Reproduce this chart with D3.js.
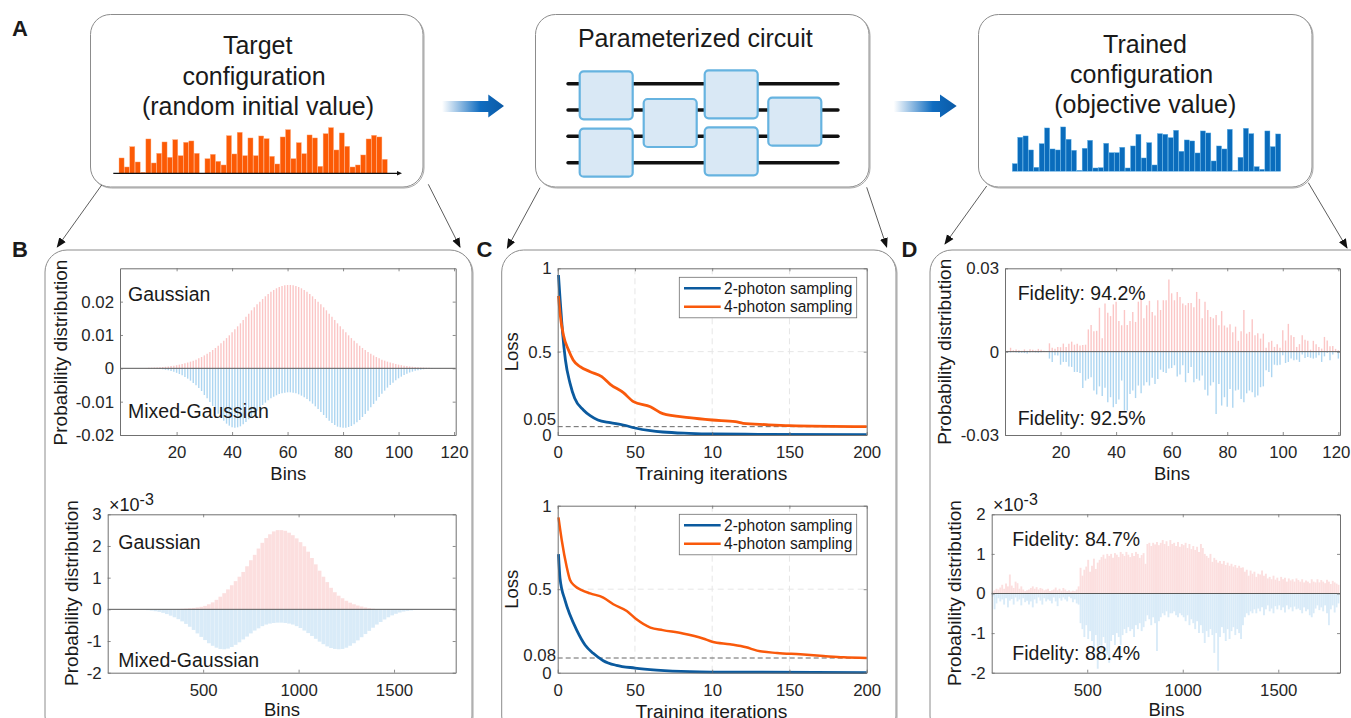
<!DOCTYPE html>
<html>
<head>
<meta charset="utf-8">
<script src="https://cdn.jsdelivr.net/npm/d3@7/dist/d3.min.js"></script>
<style>
	body { margin: 0; background: #fff; overflow: hidden; }
	text { font-family: "Liberation Sans", Arial, sans-serif; fill: #1a1a1a; }
</style>
</head>
<body>
<div id="chart"></div>
<script>
// top row sketches, heights in arbitrary units
var targetBars = [46,19,80,34,3,103,31,60,94,48,101,53,93,97,60,0,44,57,36,25,113,58,123,53,106,53,112,104,51,28,109,131,44,92,59,115,106,21,119,137,70,121,81,19,25,55,103,114,109,42];
var trainedBars = [23,102,106,64,12,83,130,67,64,133,96,63,3,69,93,10,11,84,56,56,72,10,76,111,40,86,19,113,111,101,123,60,94,91,55,121,115,31,76,67,126,3,42,129,113,14,6,121,74,112];

// panel B top, bins 1..120, units of 1e-4
var gaussian120 = [0,0,0,0,0,0,0,0,.8,1.5,1.8,2.2,2.8,3.3,4,4.7,5.6,6.7,8,9.3,11,12.8,15,17.3,20,23,26,30,34,38.8,44,49,55,61,68,75,83,90.6,99,108,117,126,135,145,155,164,174,183,192,200,208,216,223,230,235,240,244,247,249,250,250,249,247,244,240,235,230,223,216,208,200,192,183,174,164,155,145,135,126,117,108,99,90.6,83,75,68,61,55,49,44,38.8,34,30,26,23,20,17.3,15,12.8,11,9.3,8,6.7,5.6,4.7,4,3.3,2.8,2.2,1.8,1.5,.8,0,0,0,0,0,0,0,0];
var mixed120 = [0,0,0,0,0,0,0,0,0,.3,.5,.8,1.3,2,3,4.5,6,8,10.5,13.5,17,21,26,31,37,44,51,59,68,80,90,101,113,125,136,147,157,166,172,177,178,177,174,168,161,153,145,136,127,119,110,103,96,90,85,81,77,75,73,72,72,73,75,78,82,87,92,99,106,114,122,131,140,149,157,164,170,175,177,178,178,176,173,168,162,155,146,137,127,117,107,97,86,76,67,58,50,43,36,30,25,20,16,12.5,10,7.5,5.5,4,3,2,1.5,1,.7,.4,.2,0,0,0,0,0];

// panel B bottom, every 20 bins from 10 to 1810, units of 1e-3
var gaussian1820 = [0,0,0,0,0,0,0,0,0,0,0,0,0,0,0,.004,.005,.008,.012,.018,.025,.035,.045,.06,.08,.11,.16,.22,.30,.40,.51,.63,.76,.89,1.03,1.18,1.36,1.55,1.72,1.92,2.10,2.25,2.37,2.46,2.5,2.5,2.48,2.42,2.34,2.24,2.12,1.99,1.82,1.62,1.42,1.22,1.03,.86,.68,.54,.43,.35,.27,.21,.16,.12,.09,.06,.035,.02,.01,.005,.002,0,0,0,0,0,0,0,0,0,0,0,0,0,0,0,0,0,0];
var mixed1820 = [0,0,0,0,0,0,0,.005,.01,.015,.025,.04,.06,.08,.11,.15,.20,.25,.31,.38,.46,.55,.65,.76,.87,.97,1.07,1.15,1.21,1.25,1.26,1.24,1.19,1.12,1.04,.95,.86,.76,.67,.6,.53,.48,.45,.43,.42,.42,.43,.45,.48,.53,.59,.67,.75,.84,.93,1.02,1.10,1.17,1.22,1.25,1.26,1.25,1.21,1.15,1.07,.98,.88,.78,.68,.58,.48,.40,.32,.25,.19,.14,.10,.07,.05,.035,.022,.013,.008,.004,.002,0,0,0,0,0,0];

// panel C, iteration and loss pairs
var iterTop2 = [0.5,1.5,2.6,3.2,5,8,11,16.6,21,26,34,42.5,50,60,68,85,100,130,200];
var lossTop2 = [.96,.82,.68,.61,.45,.31,.22,.15,.116,.09,.074,.06,.042,.026,.018,.01,.006,.004,.002];
var iterTop4 = [0.5,1.5,3.7,7,10,14.5,21,28.5,34,42.5,49,60,68,85,100,115,120,135,150,200];
var lossTop4 = [.834,.73,.6,.51,.45,.41,.38,.35,.304,.254,.20,.17,.128,.104,.09,.08,.07,.062,.056,.05];
var iterBot2 = [0.5,1.5,4.7,8,12.3,17.7,23,29.5,38,50,64,85.6,100,200];
var lossBot2 = [.71,.565,.435,.345,.255,.166,.116,.072,.044,.028,.016,.006,.004,.001];
var iterBot4 = [0.5,2.6,5.8,8,11,15.5,21,29.5,36,44.7,51,60,68,81,94,100,111.5,122,129,142,157,172,185,200];
var lossBot4 = [.93,.795,.635,.555,.52,.495,.475,.45,.41,.37,.32,.27,.255,.235,.205,.185,.17,.152,.132,.118,.11,.10,.092,.088];

// panel D top, bins 1..120, units of 1e-3
var trained120Pos = [.3,1.4,.5,.8,.5,.3,.8,.3,.9,.7,.4,1,.7,.3,.2,3,1.4,1,1.7,1.6,2.9,1.7,2.8,3.6,2.5,2.8,2.2,2.4,2.5,8,9.6,7.3,7.5,15.8,4.8,17.3,14,12.8,17,18,11,9.5,15,9.6,11,14.3,10.7,18,19,12,16.7,18.3,14.3,13,18.5,15,18.5,18.5,26,21,18.5,21.5,19.7,17.3,16.7,17.5,17.5,16,21.5,19,12,18,15,12.5,12,13.2,9.5,14.6,9.4,8.7,9.9,7,9,3.9,7.3,15,6.5,7.1,11.7,5.9,6.6,4.7,6.5,1.4,3.4,3.9,1.7,2.7,1.4,7.7,4,10,5.9,5.3,1.7,2.7,5.9,4.3,3.9,.7,3.9,2.7,1.7,1.1,5.3,4,1.9,2,1,.5];
var trained120Neg = [.3,.3,.2,.3,.5,.4,.5,.7,.3,.2,.3,.4,.2,.1,.1,2.5,3.7,1.3,1.4,4.7,3.7,3.7,5.3,5.5,7.3,7.3,7.7,13.1,10.4,9.8,9.2,14,15.4,12.5,16,13,18.2,16.4,20,18.8,17.2,10.4,21.2,21.2,15.2,14,16.7,12.2,15,12.2,11,12.2,9.4,11.6,9.8,6.5,7.3,7.7,6.1,5.9,4.9,8.9,8.2,4.9,11,7.7,5.5,11,9.8,10.4,8.6,13.7,15.8,12.2,11,22.4,11.6,19.4,16.4,19.8,13.4,20.2,14,13.7,17,18.2,15,14,14.6,16.4,15.8,12.8,12.5,6.7,7.3,9.2,4.7,4.9,4.7,1.3,4.1,3.7,2.5,3.1,2.9,3.7,1,2.3,1.9,2.2,2.5,2.2,1.3,3.7,1.7,.5,3.1,1,.2,2.5];

// panel D bottom, every 10 bins from 5 to 1815, units of 1e-3
var trained1820Pos = [.05,.08,.12,.1,.15,.22,.12,.25,.18,.48,.2,.14,.3,.26,.12,.18,.1,.06,.08,.1,.14,.18,.12,.16,.1,.14,.12,.08,.1,.12,.06,.08,.1,.15,.08,.12,.07,.14,.1,.06,.08,.05,.07,.06,.1,.18,.65,.45,.6,.68,.85,.55,.7,.88,.62,.78,.85,.92,.98,.88,1,.95,1,.9,1.02,.98,.92,1.05,1,.95,1.05,.98,.92,1.02,.95,1.05,1,.9,.97,1.02,.75,1.25,1.28,1.2,1.28,1.24,1.3,1.22,1.28,1.35,1.25,1.32,1.2,1.35,1.25,1.28,1.2,1.3,1.18,1.25,1.22,1.28,1.15,1.25,1.12,1.2,1.1,1.18,1.05,1.25,1.15,1,.95,.9,1,.8,.9,.85,.78,.82,.75,.82,.72,.78,.7,.75,.68,.72,.65,.7,.65,.66,.55,.6,.45,.58,.5,.55,.42,.5,.48,.58,.45,.5,.38,.42,.36,.45,.35,.4,.32,.42,.36,.4,.3,.38,.33,.36,.3,.38,.34,.3,.36,.28,.33,.3,.26,.36,.3,.28,.36,.28,.34,.3,.26,.35,.3,.24,.32,.28,.25,.22];
var trained1820Neg = [.08,.4,.25,.12,.2,.15,.28,.12,.35,.18,.14,.28,.1,.2,.15,.3,.12,.22,.18,.28,.2,.35,.15,.25,.1,.18,.28,.12,.2,.15,.18,.25,.1,.2,.32,.12,.18,.1,.15,.2,.08,.12,.22,.15,.25,.28,.75,.9,1.1,.8,1.15,.95,1.2,1.35,1.05,1.9,1.3,1.45,1.1,1.25,1.55,1.75,1.2,1.05,1.3,1,1.1,1.3,1.05,.9,1,.85,.95,.9,1.1,.8,.9,.75,.95,.85,.7,.55,.65,.8,.6,.75,1.45,.7,.6,.5,.55,.45,.6,.5,.5,.45,.55,.6,.5,.55,.6,.7,.55,.8,.65,.75,.9,.7,1,.8,1,1.25,.95,1.1,.9,1.05,1.5,1,1.95,1.1,.85,1,1.2,.9,1.15,.95,.85,1.05,.9,1,1.15,.8,.6,.5,.55,.45,.5,.4,.5,.38,.45,.35,.55,.4,.3,.45,.38,.5,.32,.4,.3,.42,.35,.48,.3,.4,.35,.45,.33,.4,.38,.42,.5,.35,.45,.4,.55,.6,.5,.38,.3,.42,.35,.45,.3,.5,.8,.4,.3,.48,.35,.25];

var bins120 = d3.range(1, 121);
var bins20 = d3.range(10, 1820, 20);
var bins10 = d3.range(5, 1825, 10);

var binTicks = [20, 40, 60, 80, 100, 120];
var bigBinTicks = [500, 1000, 1500];
var iterTicks = [0, 50, 100, 150, 200];
var iterLabels = ["0", "50", "10", "150", "200"];
var lossTicks = [0, 0.5, 1];
var lossLabels = ["0", "0.5", "1"];

var PINK = "#fbc6c6", SKY = "#aed6f1";
var PALE_PINK = "#fcdfdf", PALE_SKY = "#d9ebf8";
var ORANGE = "#f9590b", NAVY = "#0b5a9e";

var svg = d3.select("#chart").append("svg")
	.attr("width", 1351)
	.attr("height", 718)
	.style("display", "block");

var defs = svg.append("defs");
var grad = defs.append("linearGradient").attr("id", "arrowFill");
grad.append("stop").attr("offset", "8%").attr("stop-color", "#fff");
grad.append("stop").attr("offset", "65%").attr("stop-color", "#0f6cc0");
grad.append("stop").attr("offset", "100%").attr("stop-color", "#0b5aa6");
var head = defs.append("marker")
	.attr("id", "tip")
	.attr("viewBox", "0 0 10 10")
	.attr("refX", 9).attr("refY", 5)
	.attr("markerUnits", "userSpaceOnUse")
	.attr("markerWidth", 10).attr("markerHeight", 10)
	.attr("orient", "auto");
head.append("path").attr("d", "M0,1L10,5L0,9Z").attr("fill", "#111");

function roundBox(x0, y0, x1, y1, r) {
	svg.append("rect")
		.attr("x", x0 + 1).attr("y", y0 + 1)
		.attr("width", x1 - x0).attr("height", y1 - y0)
		.attr("rx", r)
		.attr("fill", "#fff").attr("stroke", "#a8a8a8").attr("stroke-width", 1);
	svg.append("rect")
		.attr("x", x0).attr("y", y0)
		.attr("width", x1 - x0).attr("height", y1 - y0)
		.attr("rx", r)
		.attr("fill", "#fff").attr("stroke", "#8c8c8c").attr("stroke-width", 1);
}

function label(txt, x, y, size, anchor, weight) {
	return svg.append("text")
		.text(txt)
		.attr("x", x).attr("y", y)
		.attr("font-size", size)
		.attr("text-anchor", anchor || "start")
		.attr("font-weight", weight || "normal");
}

function vLabel(txt, x, y, size) {
	return svg.append("text")
		.text(txt)
		.attr("transform", "translate(" + x + "," + y + ") rotate(-90)")
		.attr("font-size", size)
		.attr("text-anchor", "middle");
}

function arrowLine(x0, y0, x1, y1) {
	svg.append("line")
		.attr("x1", x0).attr("y1", y0)
		.attr("x2", x1).attr("y2", y1)
		.attr("stroke", "#333").attr("stroke-width", 0.8)
		.attr("marker-end", "url(#tip)");
}

function blockArrow(x0, x1, xh) {
	svg.append("polygon")
		.attr("points", [[x0, 101], [xh, 101], [xh, 94.5], [x1, 106], [xh, 117.5], [xh, 112], [x0, 112]].join(" "))
		.attr("fill", "url(#arrowFill)");
}

/* small bar sketch on top of the first and the last box */
function sketchBars(values, x0, x1, base, color, edge) {
	var x = d3.scaleBand().domain(d3.range(values.length)).range([x0, x1]).paddingInner(0.05);
	var h = d3.scaleLinear().domain([0, 137]).range([0, 45.7]);
	svg.append("g").selectAll("rect")
		.data(values)
		.join("rect")
		.attr("x", function(d, i) { return x(i); })
		.attr("y", function(d) { return base - h(d); })
		.attr("width", x.bandwidth())
		.attr("height", function(d) { return h(d); })
		.attr("fill", color)
		.attr("stroke", edge)
		.attr("stroke-width", 0.4);
}

/* MATLAB style box: inward ticks on all four sides */
function frame(box, x, y, xTicks, xLabels, yTicks, yLabels) {
	var g = svg.append("g");
	var size = 16.8;

	var bottom = d3.axisBottom(x).tickValues(xTicks).tickSizeInner(-3).tickSizeOuter(0).tickPadding(11)
		.tickFormat(function(d, i) { return xLabels[i]; });
	var left = d3.axisLeft(y).tickValues(yTicks).tickSizeInner(-3).tickSizeOuter(0).tickPadding(6)
		.tickFormat(function(d, i) { return yLabels[i]; });
	var top = d3.axisTop(x).tickValues(xTicks).tickSizeInner(-3).tickSizeOuter(0).tickFormat("");
	var right = d3.axisRight(y).tickValues(yTicks).tickSizeInner(-3).tickSizeOuter(0).tickFormat("");

	g.append("g").attr("transform", "translate(0," + box.bottom + ")").call(bottom);
	g.append("g").attr("transform", "translate(" + box.left + ",0)").call(left);
	g.append("g").attr("transform", "translate(0," + box.top + ")").call(top);
	g.append("g").attr("transform", "translate(" + box.right + ",0)").call(right);

	g.selectAll(".domain").attr("stroke", "#707070").attr("stroke-width", 1);
	g.selectAll(".tick line").attr("stroke", "#707070").attr("stroke-width", 0.8);
	g.selectAll(".tick text")
		.attr("font-size", size)
		.attr("font-family", "'Liberation Sans', Arial, sans-serif")
		.style("fill", "#262626");
	return g;
}

function stems(bins, values, sign, x, y, color, width) {
	svg.append("g").selectAll("line")
		.data(values)
		.join("line")
		.attr("x1", function(d, i) { return x(bins[i]); })
		.attr("x2", function(d, i) { return x(bins[i]); })
		.attr("y1", y(0))
		.attr("y2", function(d) { return y(sign * d); })
		.attr("stroke", color)
		.attr("stroke-width", width);
}

function zeroLine(box, y) {
	svg.append("line")
		.attr("x1", box.left).attr("x2", box.right)
		.attr("y1", y(0)).attr("y2", y(0))
		.attr("stroke", "#5a5a5a").attr("stroke-width", 1);
}

function exponent(x, y) {
	var t = label("\u00d710", x, y, 18);
	t.append("tspan").text("-3").attr("dy", -6).attr("font-size", 16);
}

/* top row */
roundBox(90.5, 14.5, 423, 187, 20);
roundBox(535.5, 14.5, 869, 187, 20);
roundBox(978.5, 14.5, 1312, 187, 20);

label("Target", 257.7, 54.3, 25, "middle");
label("configuration", 254, 85, 25, "middle");
label("(random initial value)", 258, 115, 25, "middle");
label("Parameterized circuit", 695.3, 46.7, 25, "middle");
label("Trained", 1145, 52.7, 25, "middle");
label("configuration", 1141.7, 82.7, 25, "middle");
label("(objective value)", 1145.3, 112.7, 25, "middle");

sketchBars(targetBars, 119, 387.3, 173.3, "#fc5a05", "#ffb38a");
svg.append("line")
	.attr("x1", 113.3).attr("x2", 398).attr("y1", 173.3).attr("y2", 173.3)
	.attr("stroke", "#111").attr("stroke-width", 1.2);
svg.append("path").attr("d", "M397,171L402,173.3L397,175.6Z").attr("fill", "#111");
sketchBars(trainedBars, 1012.3, 1280.7, 171.3, "#0a6cbc", "#63b5e8");

// parameterized circuit
[83.7, 110, 136.3, 162.7].forEach(function(wy) {
	svg.append("line")
		.attr("x1", 568).attr("x2", 838)
		.attr("y1", wy).attr("y2", wy)
		.attr("stroke", "#111").attr("stroke-width", 3.4).attr("stroke-linecap", "round");
});
[[579.7, 71.3], [579.7, 128.7], [643.7, 99], [704.7, 70.3], [704.7, 127.3], [768.3, 97.7]].forEach(function(b) {
	svg.append("rect")
		.attr("x", b[0]).attr("y", b[1])
		.attr("width", 53).attr("height", 48)
		.attr("rx", 4)
		.attr("fill", "#d9e8f5").attr("stroke", "#66b3e0").attr("stroke-width", 2.2);
});

blockArrow(436.7, 504, 488.3);
blockArrow(888.3, 956.7, 940);

// lower panels
roundBox(45, 250, 472, 738, 22);
roundBox(501.7, 250, 896, 738, 22);
roundBox(930, 250, 1372, 738, 22);

arrowLine(101.7, 185, 57.3, 247);
arrowLine(428.3, 184.3, 460, 247);
arrowLine(540, 187.7, 507.3, 248);
arrowLine(866.7, 187.3, 886.7, 247);
arrowLine(986.7, 186, 945, 244);
arrowLine(1308.3, 182.7, 1347, 248);

label("A", 12, 36, 22, "start", "bold");
label("B", 12, 257, 22, "start", "bold");
label("C", 476.5, 257, 22, "start", "bold");
label("D", 901.5, 257, 22, "start", "bold");

/* panel B top */
var boxB1 = { left: 120, right: 455.7, top: 268.3, bottom: 435 };
var xB1 = d3.scaleLinear().domain([-0.4, 120.6]).range([boxB1.left, boxB1.right]);
var yB1 = d3.scaleLinear().domain([-200, 300]).range([boxB1.bottom, boxB1.top]);
stems(bins120, gaussian120, 1, xB1, yB1, PINK, 1.4);
stems(bins120, mixed120, -1, xB1, yB1, SKY, 1.4);
zeroLine(boxB1, yB1);
frame(boxB1, xB1, yB1, binTicks, binTicks, [-200, -100, 0, 100, 200], ["-0.02", "-0.01", "0", "0.01", "0.02"]);
vLabel("Probability distribution", 67, 352.5, 19);
label("Bins", 288.3, 479.5, 18.5, "middle");
label("Gaussian", 128, 300.7, 19.5);
label("Mixed-Gaussian", 128, 418.3, 19.5);

/* panel B bottom */
var boxB2 = { left: 107.7, right: 455.7, top: 514.3, bottom: 672.7 };
var xB2 = d3.scaleLinear().domain([0, 1823]).range([boxB2.left, boxB2.right]);
var yB2 = d3.scaleLinear().domain([-2, 3]).range([boxB2.bottom, boxB2.top]);
stems(bins20, gaussian1820, 1, xB2, yB2, PALE_PINK, 3.7);
stems(bins20, mixed1820, -1, xB2, yB2, PALE_SKY, 3.7);
zeroLine(boxB2, yB2);
frame(boxB2, xB2, yB2, bigBinTicks, bigBinTicks, [-2, -1, 0, 1, 2, 3], ["-2", "-1", "0", "1", "2", "3"]);
vLabel("Probability distribution", 78, 593, 19);
exponent(109, 510.5);
label("Bins", 282, 716, 18.5, "middle");
label("Gaussian", 118.3, 549.3, 19.5);
label("Mixed-Gaussian", 118.3, 666.7, 19.5);

/* panel C, both plots */
function lossPlot(box, iters2, loss2, iters4, loss4, cut, cutLabel, cutLabelY, legendTop, orangeWidth) {
	var x = d3.scaleLinear().domain([0, 200]).range([box.left, box.right]);
	var y = d3.scaleLinear().domain([0, 1]).range([box.bottom, box.top]);

	[50, 100, 150].forEach(function(v) {
		svg.append("line")
			.attr("x1", x(v)).attr("x2", x(v))
			.attr("y1", box.top).attr("y2", box.bottom)
			.attr("stroke", "#e6e6e6").attr("stroke-dasharray", "6,4");
	});
	svg.append("line")
		.attr("x1", box.left).attr("x2", box.right)
		.attr("y1", y(0.5)).attr("y2", y(0.5))
		.attr("stroke", "#e6e6e6").attr("stroke-dasharray", "6,4");
	svg.append("line")
		.attr("x1", box.left).attr("x2", box.right)
		.attr("y1", y(cut)).attr("y2", y(cut))
		.attr("stroke", "#555").attr("stroke-width", 0.9).attr("stroke-dasharray", "5,3");

	var line = d3.line().curve(d3.curveMonotoneX);
	svg.append("path")
		.attr("d", line(iters2.map(function(v, i) { return [x(v), y(loss2[i])]; })))
		.attr("fill", "none").attr("stroke", NAVY).attr("stroke-width", 2.8);
	svg.append("path")
		.attr("d", line(iters4.map(function(v, i) { return [x(v), y(loss4[i])]; })))
		.attr("fill", "none").attr("stroke", ORANGE).attr("stroke-width", orangeWidth);

	frame(box, x, y, iterTicks, iterLabels, lossTicks, lossLabels);
	label(cutLabel, 556, cutLabelY, 16.8, "end").style("fill", "#262626");

	// legend
	svg.append("rect")
		.attr("x", 679.3).attr("y", legendTop)
		.attr("width", 177.4).attr("height", 40.5)
		.attr("fill", "#fff").attr("stroke", "#707070").attr("stroke-width", 0.8);
	[["2-photon sampling", NAVY, 11], ["4-photon sampling", ORANGE, 29.5]].forEach(function(e) {
		svg.append("line")
			.attr("x1", 684).attr("x2", 720.7)
			.attr("y1", legendTop + e[2]).attr("y2", legendTop + e[2])
			.attr("stroke", e[1]).attr("stroke-width", 2.6);
		label(e[0], 724, legendTop + e[2] + 5.5, 15.6);
	});
}

lossPlot({ left: 557.7, right: 866.7, top: 268.3, bottom: 435 }, iterTop2, lossTop2, iterTop4, lossTop4, 0.05, "0.05", 425, 277.3, 2.8);
vLabel("Loss", 517.5, 351.7, 18.5);
label("Training iterations", 711.5, 479.5, 19.2, "middle");

lossPlot({ left: 557.7, right: 866.7, top: 505.7, bottom: 672.7 }, iterBot2, lossBot2, iterBot4, lossBot4, 0.088, "0.08", 661, 514.3, 2.5);
vLabel("Loss", 517.5, 589.3, 18.5);
label("Training iterations", 711.5, 718, 19.2, "middle");

/* panel D top */
var boxD1 = { left: 1005, right: 1340, top: 268.3, bottom: 435 };
var xD1 = d3.scaleLinear().domain([0, 120.6]).range([boxD1.left, boxD1.right]);
var yD1 = d3.scaleLinear().domain([-30, 30]).range([boxD1.bottom, boxD1.top]);
stems(bins120, trained120Pos, 1, xD1, yD1, PINK, 1.4);
stems(bins120, trained120Neg, -1, xD1, yD1, SKY, 1.4);
zeroLine(boxD1, yD1);
var frameD1 = frame(boxD1, xD1, yD1, binTicks, binTicks, [-30, 0, 30], ["-0.03", "0", "0.03"]);
// the 120 label sits against the right page edge
frameD1.selectAll(".tick text").filter(function() { return this.textContent == "120"; }).attr("dx", -2.5);
vLabel("Probability distribution", 951, 351.7, 19);
label("Bins", 1172, 479.5, 18.5, "middle");
label("Fidelity: 94.2%", 1017.7, 300, 19.5);
label("Fidelity: 92.5%", 1017.7, 425, 19.5);

/* panel D bottom */
var boxD2 = { left: 991.7, right: 1340, top: 514.3, bottom: 672.7 };
var xD2 = d3.scaleLinear().domain([0, 1823]).range([boxD2.left, boxD2.right]);
var yD2 = d3.scaleLinear().domain([-2, 2]).range([boxD2.bottom, boxD2.top]);
stems(bins10, trained1820Pos, 1, xD2, yD2, PALE_PINK, 1.9);
stems(bins10, trained1820Neg, -1, xD2, yD2, PALE_SKY, 1.9);
zeroLine(boxD2, yD2);
frame(boxD2, xD2, yD2, bigBinTicks, bigBinTicks, [-2, -1, 0, 1, 2], ["-2", "-1", "0", "1", "2"]);
vLabel("Probability distribution", 961, 593, 19);
exponent(993, 510.5);
label("Bins", 1166.5, 716, 18.5, "middle");
label("Fidelity: 84.7%", 1012.3, 545.7, 19.5);
label("Fidelity: 88.4%", 1012.3, 660, 19.5);
</script>
</body>
</html>
